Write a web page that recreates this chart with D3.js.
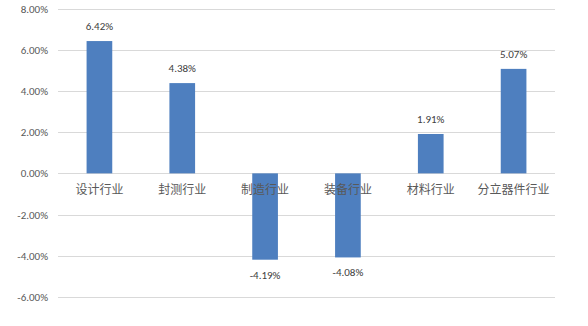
<!DOCTYPE html>
<html><head><meta charset="utf-8">
<script src="https://cdn.jsdelivr.net/npm/d3@7"></script>
<style>body{margin:0;background:#fff;}svg{display:block;}</style>
</head><body>
<svg id="c" width="588" height="326"></svg>
<script>
const categories = ["设计行业","封测行业","制造行业","装备行业","材料行业","分立器件行业"];
const values = [6.42, 4.38, -4.19, -4.08, 1.91, 5.07];
const yTicks = [8, 6, 4, 2, 0, -2, -4, -6];

const svg = d3.select("#c");
const m = {left:58, right:33, top:8.5, bottom:29};
const W = 588, H = 326;
const x = d3.scaleBand().domain(categories).range([m.left, W - m.right]).paddingInner(0.69).paddingOuter(0.345);
const y = d3.scaleLinear().domain([-6, 8]).range([H - m.bottom, m.top]);
const font = "'Microsoft YaHei','Noto Sans CJK SC','DejaVu Sans',sans-serif";

svg.append("g").selectAll("line").data(yTicks).join("line")
  .attr("x1", m.left).attr("x2", W - m.right)
  .attr("y1", d => Math.round(y(d)) + 0.5).attr("y2", d => Math.round(y(d)) + 0.5)
  .attr("stroke", "#d9d9d9").attr("stroke-width", 1);

const yAxis = d3.axisLeft(y).tickValues(yTicks).tickSize(0).tickPadding(10)
  .tickFormat(d => d.toFixed(2) + "%");
const ga = svg.append("g").attr("transform", `translate(${m.left},0)`).call(yAxis);
ga.select(".domain").remove();
ga.selectAll("text").attr("fill", "#595959").attr("font-size", 11).attr("font-family", "'Calibri','Liberation Sans',sans-serif");

svg.append("g").selectAll("rect").data(values).join("rect")
  .attr("x", (d, i) => x(categories[i]))
  .attr("width", x.bandwidth())
  .attr("y", d => y(Math.max(0, d)))
  .attr("height", d => Math.abs(y(d) - y(0)))
  .attr("fill", "#4e7fbf");

svg.append("g").selectAll("text").data(values).join("text")
  .attr("x", (d, i) => x(categories[i]) + x.bandwidth() / 2)
  .attr("y", d => d >= 0 ? y(d) - 11 : y(d) + 19)
  .attr("text-anchor", "middle")
  .attr("fill", "#404040").attr("font-size", 11)
  .attr("font-family", "'Calibri','Liberation Sans',sans-serif")
  .text(d => d.toFixed(2) + "%");

svg.append("g").selectAll("text").data(categories).join("text")
  .attr("x", d => x(d) + x.bandwidth() / 2)
  .attr("y", y(0) + 21)
  .attr("text-anchor", "middle")
  .attr("fill", "#595959").attr("font-size", 12)
  .attr("font-family", font)
  .text(d => d);
</script>
</body></html>
